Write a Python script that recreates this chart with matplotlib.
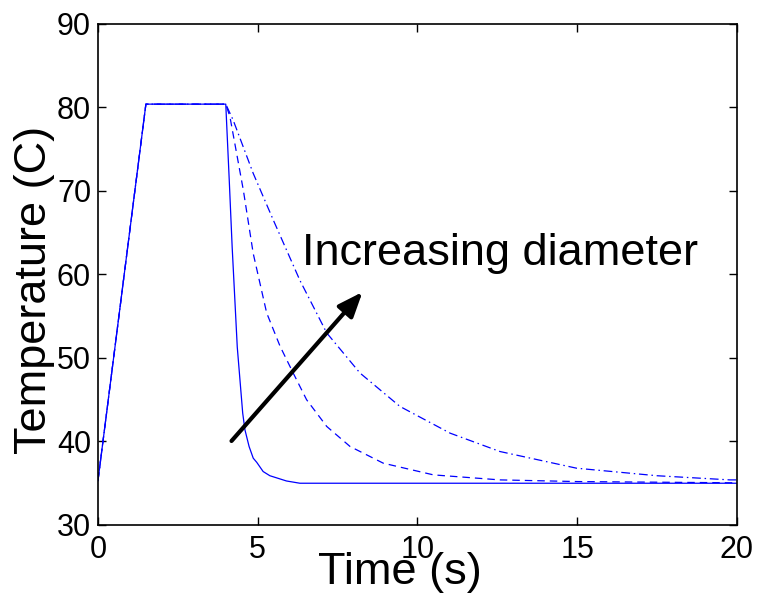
import matplotlib
matplotlib.use('Agg')
import matplotlib.pyplot as plt

plt.rcParams['font.family'] = ['Liberation Sans', 'DejaVu Sans']

# smallest diameter (solid)
t_small = [0, 1.5, 4.0, 4.11, 4.2, 4.36, 4.53, 4.60, 4.73, 4.86, 4.97, 5.17, 5.38, 5.9, 6.32, 20]
T_small = [35.3, 80.4, 80.4, 71.2, 63.3, 51.3, 43.4, 41.4, 39.4, 38.0, 37.5, 36.4, 35.9, 35.27, 35.0, 35.0]

# medium diameter (dashed)
t_mid = [0, 1.5, 4.0, 4.13, 4.55, 4.86, 5.28, 5.70, 6.11, 6.53, 7.16, 7.89, 8.93, 10.5, 12.58, 15, 20]
T_mid = [35.3, 80.4, 80.4, 78.9, 70.1, 62.5, 55.4, 51.4, 48.2, 45.0, 41.8, 39.4, 37.4, 36.0, 35.4, 35.2, 35.05]

# largest diameter (dash-dot)
t_large = [0, 1.5, 4.0, 4.23, 4.86, 5.49, 6.32, 7.16, 8.2, 9.45, 11.02, 12.58, 14.98, 17.49, 19.78, 20]
T_large = [35.3, 80.4, 80.4, 78.5, 72.1, 66.5, 59.3, 53.0, 48.2, 44.2, 41.0, 38.8, 36.8, 35.9, 35.4, 35.4]

xticks = [0, 5, 10, 15, 20]
yticks = [30, 40, 50, 60, 70, 80, 90]

fig = plt.figure(figsize=(7.6, 5.98), dpi=100)
ax = fig.add_axes([0.1289, 0.1221, 0.8408, 0.8378])

ax.plot(t_small, T_small, color='blue', lw=0.9, linestyle='-')
ax.plot(t_mid, T_mid, color='blue', lw=0.9, linestyle=(0, (6, 4)))
ax.plot(t_large, T_large, color='blue', lw=0.9, linestyle=(0, (7, 3, 1.2, 3)))

# стрелка "увеличение диаметра"
ax.annotate('', xy=(8.28, 57.9), xytext=(4.18, 40.06),
            arrowprops=dict(arrowstyle='-|>,head_length=0.75,head_width=0.3',
                            lw=3, color='black', mutation_scale=20,
                            shrinkA=0, shrinkB=0))
ax.text(6.38, 61.1, 'Increasing diameter', fontsize=32.5, ha='left', va='baseline')

ax.set_xlim(0, 20)
ax.set_ylim(30, 90)
ax.set_xticks(xticks)
ax.set_yticks(yticks)
ax.tick_params(direction='in', top=True, right=True, length=6, width=1,
               labelsize=22, pad=5)
ax.tick_params(axis='x', pad=7)
for s in ax.spines.values():
    s.set_linewidth(1.2)

ax.set_xlabel('Time (s)', fontsize=32.5)
ax.xaxis.set_label_coords(0.473, -0.053)
ax.set_ylabel('Temperature (C)', fontsize=32.5)
ax.yaxis.set_label_coords(-0.067, 0.469)

fig.savefig('out.png', dpi=100)
